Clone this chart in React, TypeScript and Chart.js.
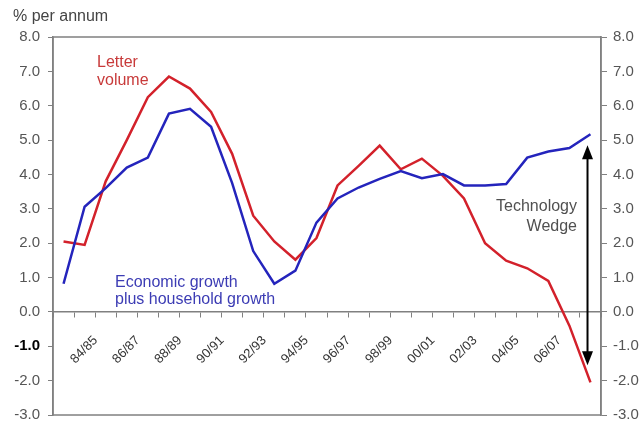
import React, { useEffect, useRef } from "react";
import { Chart, registerables } from "chart.js";

Chart.register(...registerables);

const categories = [
  "83/84", "84/85", "85/86", "86/87", "87/88", "88/89", "89/90", "90/91", "91/92",
  "92/93", "93/94", "94/95", "95/96", "96/97", "97/98", "98/99", "99/00", "00/01",
  "01/02", "02/03", "03/04", "04/05", "05/06", "06/07", "07/08", "08/09",
];

const letterVolume = [
  2.05, 1.95, 3.8, 5.0, 6.25, 6.85, 6.5, 5.82, 4.6, 2.8, 2.05, 1.52, 2.15, 3.68,
  4.25, 4.84, 4.15, 4.46, 3.96, 3.3, 2.0, 1.49, 1.27, 0.9, -0.4, -2.05,
];

const economicGrowth = [
  0.82, 3.06, 3.6, 4.2, 4.49, 5.77, 5.91, 5.39, 3.75, 1.77, 0.82, 1.2, 2.6, 3.3,
  3.62, 3.87, 4.1, 3.89, 4.01, 3.68, 3.68, 3.72, 4.49, 4.67, 4.77, 5.17,
];

const yMin = -3;
const yMax = 8;
const wedgeIndex = 24.86;
const wedgeFrom = -1.55;
const wedgeTo = 4.85;

const FONT = "'Liberation Sans', Arial, sans-serif";
const GRAY = "#808080";
const LABEL = "#555555";

export default function App() {
  const ref = useRef<HTMLCanvasElement | null>(null);

  useEffect(() => {
    if (!ref.current) return;

    const decorations = {
      id: "decorations",
      beforeDatasetsDraw(chart: any) {
        const { ctx, chartArea } = chart;
        ctx.save();
        ctx.strokeStyle = GRAY;
        ctx.lineWidth = 1.5;
        ctx.strokeRect(chartArea.left, chartArea.top, chartArea.right - chartArea.left, chartArea.bottom - chartArea.top);
        ctx.restore();
      },
      afterDatasetsDraw(chart: any) {
        const { ctx } = chart;
        const xs = chart.scales.x;
        const ys = chart.scales.y;
        ctx.save();
        // title
        ctx.font = `16px ${FONT}`;
        ctx.fillStyle = "#444444";
        ctx.textAlign = "left";
        ctx.textBaseline = "middle";
        ctx.fillText("% per annum", 13, 17);

        // Letter volume label
        ctx.fillStyle = "#c83a3a";
        ctx.fillText("Letter", 97, 63);
        ctx.fillText("volume", 97, 81);

        // Economic growth label
        ctx.fillStyle = "#3c3cb4";
        ctx.fillText("Economic growth", 115, 283);
        ctx.fillText("plus household growth", 115, 300);

        // Technology wedge
        ctx.fillStyle = "#505050";
        ctx.textAlign = "right";
        ctx.fillText("Technology", 577, 207);
        ctx.fillText("Wedge", 577, 227);

        // arrow
        const ax = xs.getPixelForValue(wedgeIndex);
        const y1 = ys.getPixelForValue(wedgeTo);
        const y2 = ys.getPixelForValue(wedgeFrom);
        const headL = 14;
        const headW = 5.5;
        ctx.strokeStyle = "#000";
        ctx.fillStyle = "#000";
        ctx.lineWidth = 2;
        ctx.beginPath();
        ctx.moveTo(ax, y1 + headL - 2);
        ctx.lineTo(ax, y2 - headL + 2);
        ctx.stroke();
        ctx.beginPath();
        ctx.moveTo(ax, y1);
        ctx.lineTo(ax - headW, y1 + headL);
        ctx.lineTo(ax + headW, y1 + headL);
        ctx.closePath();
        ctx.fill();
        ctx.beginPath();
        ctx.moveTo(ax, y2);
        ctx.lineTo(ax - headW, y2 - headL);
        ctx.lineTo(ax + headW, y2 - headL);
        ctx.closePath();
        ctx.fill();
        ctx.restore();
      },
    };

    const yTickFont = (c: any) =>
      c.tick && c.tick.value === -1
        ? { family: FONT, size: 15, weight: "bold" as const }
        : { family: FONT, size: 15 };

    const chart = new Chart(ref.current, {
      type: "line",
      data: {
        labels: categories,
        datasets: [
          {
            label: "Economic growth plus household growth",
            data: economicGrowth,
            borderColor: "#2424bc",
            backgroundColor: "#2424bc",
            borderWidth: 2.5,
            pointRadius: 0,
            tension: 0,
            fill: false,
          },
          {
            label: "Letter volume",
            data: letterVolume,
            borderColor: "#d3212b",
            backgroundColor: "#d3212b",
            borderWidth: 2.5,
            pointRadius: 0,
            tension: 0,
            fill: false,
          },
        ],
      },
      options: {
        responsive: false,
        animation: false,
        layout: { padding: { top: 37, bottom: 10, left: 0, right: 0 } },
        plugins: {
          legend: { display: false },
          tooltip: { enabled: false },
          title: { display: false },
        },
        scales: {
          x: {
            type: "category",
            position: { y: 0 } as any,
            offset: true,
            grid: {
              display: true,
              drawOnChartArea: false,
              drawTicks: true,
              tickLength: 5,
              color: GRAY,
              lineWidth: 1,
              offset: true,
            },
            border: { display: true, color: GRAY, width: 1.5 },
            ticks: {
              autoSkip: false,
              minRotation: 45,
              maxRotation: 45,
              labelOffset: 11,
              padding: 16,
              color: "#333333",
              font: { family: FONT, size: 13 },
              callback: (_v: any, i: number) => (i % 2 === 1 && i < 25 ? categories[i] : ""),
            },
            afterFit: (s: any) => {
              s.height = 0;
            },
          },
          y: {
            position: "left",
            min: yMin,
            max: yMax,
            grid: {
              display: true,
              drawOnChartArea: false,
              drawTicks: true,
              tickLength: 5,
              color: GRAY,
            },
            border: { display: true, color: GRAY, width: 1.5 },
            ticks: {
              stepSize: 1,
              padding: 8,
              font: yTickFont as any,
              color: ((c: any) => (c.tick && c.tick.value === -1 ? "#000000" : LABEL)) as any,
              callback: (v: any) => Number(v).toFixed(1),
            },
            afterFit: (s: any) => {
              s.width = 53;
            },
          },
          y2: {
            position: "right",
            min: yMin,
            max: yMax,
            grid: {
              display: true,
              drawOnChartArea: false,
              drawTicks: true,
              tickLength: 6,
              color: GRAY,
            },
            border: { display: true, color: GRAY, width: 1.5 },
            ticks: {
              stepSize: 1,
              padding: 6,
              font: { family: FONT, size: 15 },
              color: LABEL,
              callback: (v: any) => Number(v).toFixed(1),
            },
            afterFit: (s: any) => {
              s.width = 42;
            },
          },
        },
      },
      plugins: [decorations],
    });

    return () => chart.destroy();
  }, []);

  return (
    <div style={{ position: "absolute", left: 0, top: 0, width: 643, height: 432, background: "#fff" }}>
      <canvas ref={ref} width={643} height={432} style={{ display: "block" }} />
    </div>
  );
}
